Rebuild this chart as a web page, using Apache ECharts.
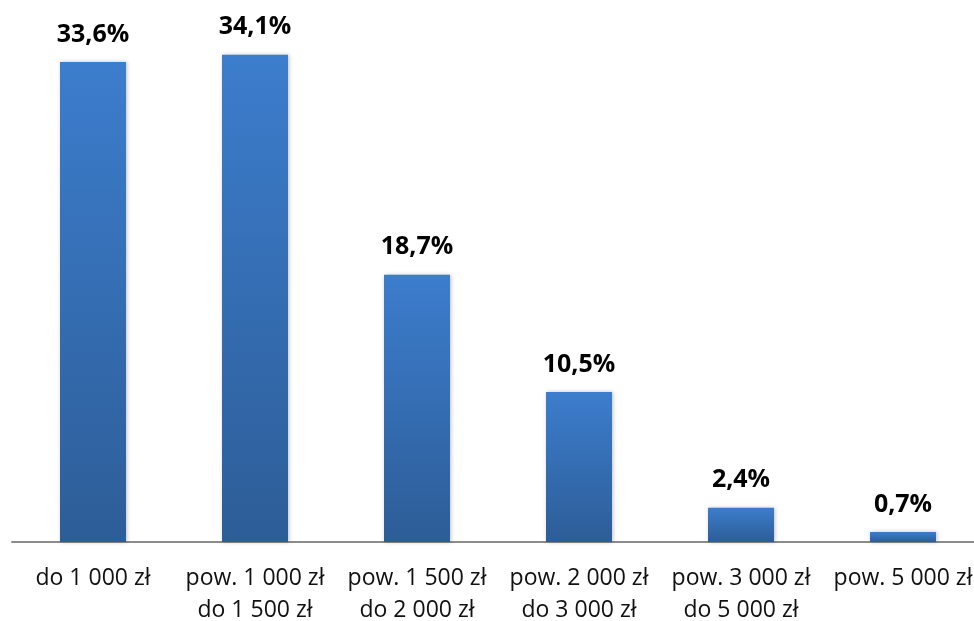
<!DOCTYPE html>
<html lang="pl">
  <head>
    <meta charset="UTF-8" />
    <script src="https://cdn.jsdelivr.net/npm/echarts@6/dist/echarts.min.js"></script>
    <title>Wykres</title>
    <style>
      html, body { margin: 0; padding: 0; background: #fff; }
    </style>
  </head>
  <body>
    <div id="app" style="width: 974px; height: 621px"></div>

    <script>
      // kategorie i wartości (%)
      const categories = [
        "do 1 000 zł",
        "pow. 1 000 zł\ndo 1 500 zł",
        "pow. 1 500 zł\ndo 2 000 zł",
        "pow. 2 000 zł\ndo 3 000 zł",
        "pow. 3 000 zł\ndo 5 000 zł",
        "pow. 5 000 zł",
      ];
      const values = [33.6, 34.1, 18.7, 10.5, 2.4, 0.7];

      const chart = echarts.init(document.getElementById("app"));

      chart.setOption({
        backgroundColor: "#ffffff",
        animation: false,
        // siatka szersza niż okno, jak w oryginale (ostatnia kategoria ucięta)
        grid: { left: 12, width: 972, top: 42, bottom: 79, outerBoundsMode: "none" },
        xAxis: {
          type: "category",
          data: categories,
          axisLine: { lineStyle: { color: "#8c8c8c", width: 2 } },
          axisTick: { show: false },
          axisLabel: {
            interval: 0,
            color: "#111",
            fontFamily: "Open Sans",
            fontSize: 23,
            lineHeight: 32,
            margin: 20,
          },
        },
        yAxis: {
          type: "value",
          min: 0,
          max: 35,
          show: false,
          splitLine: { show: false },
        },
        series: [
          {
            type: "bar",
            data: values,
            barWidth: 66,
            itemStyle: {
              color: new echarts.graphic.LinearGradient(0, 0, 0, 1, [
                { offset: 0, color: "#3c7dcd" },
                { offset: 1, color: "#2d5d97" },
              ]),
              shadowColor: "rgba(0,0,0,0.25)",
              shadowBlur: 4,
              shadowOffsetX: 1,
            },
            label: {
              show: true,
              position: "top",
              distance: 15,
              color: "#000",
              fontFamily: "Open Sans",
              fontWeight: "bold",
              fontSize: 25,
              formatter: (p) => p.value.toFixed(1).replace(".", ",") + "%",
            },
          },
        ],
      });
    </script>
  </body>
</html>
